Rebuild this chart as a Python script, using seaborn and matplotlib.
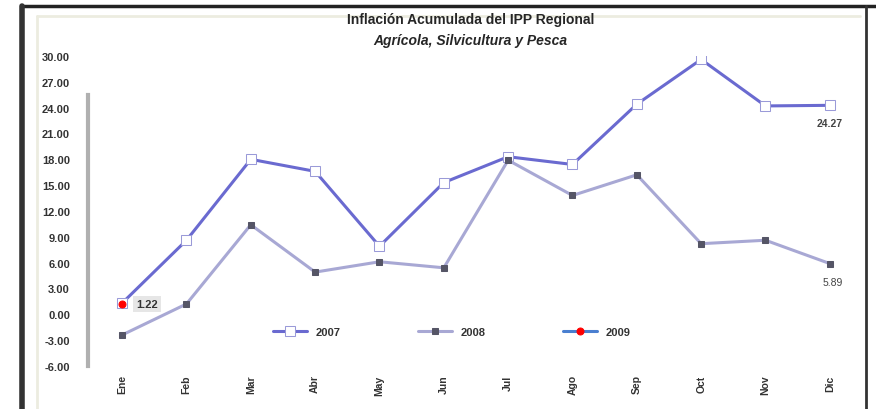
import numpy as np
import pandas as pd
import matplotlib
matplotlib.use("Agg")
import matplotlib.pyplot as plt
import seaborn as sns
from matplotlib.lines import Line2D

meses = ["Ene", "Feb", "Mar", "Abr", "May", "Jun", "Jul", "Ago", "Sep", "Oct", "Nov", "Dic"]
v2007 = [1.30, 8.6, 18.0, 16.6, 7.9, 15.3, 18.3, 17.4, 24.4, 29.6, 24.2, 24.27]
v2008 = [-2.4, 1.2, 10.4, 4.9, 6.1, 5.4, 17.9, 13.8, 16.2, 8.2, 8.6, 5.89]
v2009 = [1.22]
yticks = [-6, -3, 0, 3, 6, 9, 12, 15, 18, 21, 24, 27, 30]

sns.set_style("white")
plt.rcParams["font.family"] = ["Liberation Sans", "DejaVu Sans"]

fig = plt.figure(figsize=(8.76, 4.10), dpi=100)
ax = fig.add_axes([0.1005, 0.105, 0.8835, 0.756])

sns.lineplot(x=meses, y=v2007, sort=False, label="2007", color="#6a6ad0", linewidth=2.2,
             marker="s", markersize=7, markerfacecolor="white", markeredgecolor="#9a9ad8", ax=ax)
sns.lineplot(x=meses, y=v2008, sort=False, label="2008", color="#a8a8d4", linewidth=2.2,
             marker="s", markersize=4, markerfacecolor="#555566", markeredgecolor="#555566", ax=ax)
sns.lineplot(x=meses[:1], y=v2009, sort=False, label="2009", color="#4a7fd0", linewidth=2.2,
             marker="o", markersize=5, markerfacecolor="red", markeredgecolor="red", ax=ax)

# etiquetas de datos
ax.annotate(f"{v2009[0]:.2f}", (0, v2009[0]), xytext=(10, 0), textcoords="offset points",
            fontsize=8, fontweight="bold", color="#333333", va="center",
            bbox=dict(boxstyle="square,pad=0.25", fc="#e6e6e6", ec="none"))
ax.annotate(f"{v2007[-1]:.2f}", (11, v2007[-1]), xytext=(0, -13), textcoords="offset points",
            fontsize=7.5, fontweight="bold", color="#444444", ha="center", va="center")
ax.annotate(f"{v2008[-1]:.2f}", (11, v2008[-1]), xytext=(2, -13), textcoords="offset points",
            fontsize=7.5, color="#444444", ha="center", va="center")

ax.set_xlim(-0.53, 11.5)
ax.set_ylim(-6, 30)
ax.set_yticks(yticks)
ax.set_yticklabels([f"{t:.2f}" for t in yticks], fontsize=8, fontweight="bold", color="#333333")
ax.tick_params(axis="y", pad=13, length=0)
ax.tick_params(axis="x", pad=6, length=0)
for lab in ax.get_xticklabels():
    lab.set_rotation(90)
    lab.set_fontsize(7.5)
    lab.set_fontweight("bold")
    lab.set_color("#333333")

for s in ["top", "right", "bottom"]:
    ax.spines[s].set_visible(False)
ax.spines["left"].set_color("#b0b0b0")
ax.spines["left"].set_linewidth(3)
ax.spines["left"].set_bounds(-6, 25.5)

leg = ax.legend(loc="center", bbox_to_anchor=(0.47, 0.11), ncol=3, frameon=False,
                columnspacing=7, handlelength=3, fontsize=8)
for t in leg.get_texts():
    t.set_fontweight("bold")
    t.set_color("#333333")

fig.text(0.537, 0.952, "Inflación Acumulada del IPP Regional", ha="center", va="center",
         fontsize=10, fontweight="bold")
fig.text(0.537, 0.900, "Agrícola, Silvicultura y Pesca", ha="center", va="center",
         fontsize=10, fontweight="bold", style="italic")

# marco del gráfico
fig.add_artist(Line2D([22 / 876, 1.0], [1 - 7 / 410, 1 - 7 / 410], color="#222222", lw=2.5))
fig.add_artist(Line2D([22 / 876, 22 / 876], [0, 1 - 7 / 410], color="#333333", lw=4))
fig.add_artist(Line2D([866 / 876, 866 / 876], [0, 1 - 7 / 410], color="#333333", lw=2))
fig.add_artist(Line2D([37 / 876, 37 / 876], [0, 1 - 17 / 410], color="#ecece0", lw=2))
fig.add_artist(Line2D([37 / 876, 860 / 876], [1 - 17 / 410, 1 - 17 / 410], color="#ecece0", lw=2))

fig.savefig("out.png", dpi=100)
